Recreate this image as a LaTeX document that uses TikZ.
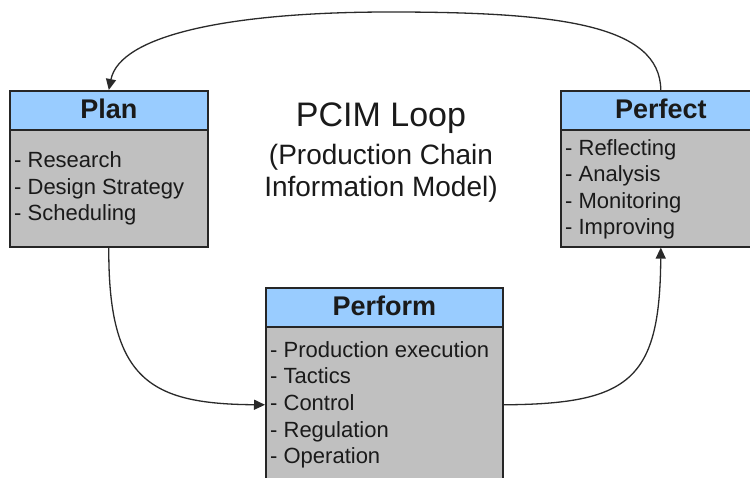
\documentclass[tikz,border=0pt]{standalone}
\usepackage{fontspec}
\setmainfont{Liberation Sans}
\usetikzlibrary{arrows.meta}

\definecolor{headblue}{HTML}{99CCFF}
\definecolor{bodygray}{HTML}{C0C0C0}
\definecolor{boxline}{HTML}{262626}
\definecolor{linkcol}{HTML}{2A2A2A}
\definecolor{inktext}{HTML}{1A1A1A}

\tikzset{
  headbox/.style={draw=boxline, fill=headblue, line width=1.6pt, inner sep=0pt,
    anchor=north west, minimum height=39pt, text depth=3pt, text=inktext,
    font=\fontsize{27}{30}\selectfont\bfseries},
  bodybox/.style={draw=boxline, fill=bodygray, line width=1.6pt, inner sep=0pt,
    anchor=north west},
  item/.style={anchor=base west, inner sep=0pt, text=inktext,
    font=\fontsize{22}{26}\selectfont},
  titleline/.style={anchor=base, inner sep=0pt, text=inktext},
  link/.style={draw=linkcol, line width=1.3pt,
    -{Triangle[length=11pt,width=10pt]}}
}

\begin{document}
\begin{tikzpicture}[x=1pt, y=-1pt]
  \useasboundingbox (0,0) rectangle (750,478);
  \clip (0,0) rectangle (750,478);
  \fill[white] (0,0) rectangle (750,478);

  % title in the middle of the loop
  \node[titleline, font=\fontsize{34}{38}\selectfont] (title1) at (381,127) {PCIM Loop};
  \node[titleline, font=\fontsize{28}{32}\selectfont] (title2) at (381,165) {(Production Chain};
  \node[titleline, font=\fontsize{28}{32}\selectfont] (title3) at (381,197) {Information Model)};

  % Plan
  \node[headbox, minimum width=198pt] (planhead) at (9,90) {Plan};
  \node[bodybox, minimum width=198pt, minimum height=117pt] (planbody) at (9,129) {};
  \foreach \t [count=\i from 0] in {Research, Design Strategy, Scheduling}
    \node[item] (plan-\i) at (14, {168+26.5*\i}) {- \t};

  % Perfect
  \node[headbox, minimum width=200pt] (perfecthead) at (560,90) {Perfect};
  \node[bodybox, minimum width=200pt, minimum height=117pt] (perfectbody) at (560,129) {};
  \foreach \t [count=\i from 0] in {Reflecting, Analysis, Monitoring, Improving}
    \node[item] (perfect-\i) at (565, {155.5+26.5*\i}) {- \t};

  % Perform
  \node[headbox, minimum width=237pt] (performhead) at (265,287) {Perform};
  \node[bodybox, minimum width=237pt, minimum height=156pt] (performbody) at (265,326) {};
  \foreach \t [count=\i from 0] in {Production execution, Tactics, Control, Regulation, Operation}
    \node[item] (perform-\i) at (270, {357.5+26.5*\i}) {- \t};

  % the loop
  \draw[link] (perfecthead.north) .. controls (660,25) and (560,12) .. (390,12)
              .. controls (230,12) and (120,35) .. (planhead.north);
  \draw[link] (planbody.south) .. controls (108,380) and (150,404) .. (performbody.west);
  \draw[link] (performbody.east) .. controls (630,404) and (660,380) .. (perfectbody.south);
\end{tikzpicture}
\end{document}
